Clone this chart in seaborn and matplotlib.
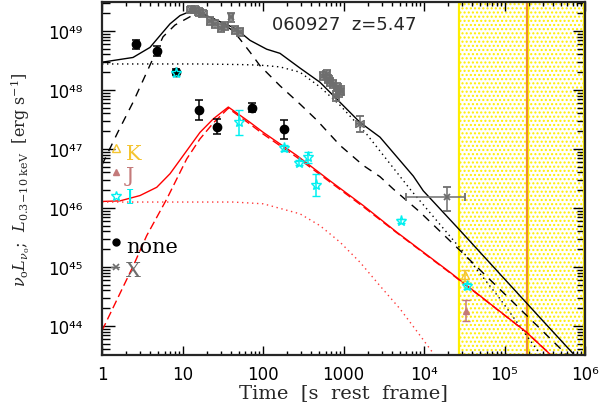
import numpy as np
import pandas as pd
import matplotlib
matplotlib.use("Agg")
import matplotlib.pyplot as plt
from matplotlib.ticker import FixedLocator, FixedFormatter, LogLocator, NullFormatter
import seaborn as sns

# ---------------- model curves: log10(t [s]) , log10(L [erg/s]) ----------------
# X-ray total (prompt + afterglow), afterglow, prompt
bk_total_lt = [0.000, 0.385, 0.596, 0.720, 0.845, 0.969, 1.093, 1.217, 1.342, 1.627, 1.714,
               1.839, 1.963, 2.046, 2.211, 2.460, 2.708, 2.957, 3.205, 3.453, 3.867, 3.991,
               4.447, 4.944, 5.441, 5.880]
bk_total_lL = [48.47, 48.55, 48.72, 48.92, 49.12, 49.26, 49.33, 49.32, 49.23, 49.06, 48.98,
               48.84, 48.75, 48.69, 48.62, 48.37, 48.13, 47.79, 47.45, 47.20, 46.54, 46.29,
               45.62, 44.88, 44.14, 43.49]
bk_after_lt = [0.000, 0.199, 0.389, 0.596, 0.758, 0.907, 1.093, 1.217, 1.342, 1.466, 1.631,
               1.714, 1.839, 1.963, 2.211, 2.460, 2.667, 2.957, 3.246, 3.453, 3.619, 3.950,
               4.447, 5.109, 5.790]
bk_after_lL = [46.73, 47.29, 47.80, 48.42, 48.90, 49.10, 49.24, 49.27, 49.24, 49.15, 49.00,
               48.86, 48.64, 48.41, 48.07, 47.76, 47.49, 47.06, 46.72, 46.53, 46.32, 45.93,
               45.28, 44.40, 43.49]
bk_prompt_lt = [0.000, 1.217, 1.714, 1.963, 2.211, 2.460, 2.708, 2.957, 3.288, 3.826, 4.447,
                4.944, 5.460]
bk_prompt_lL = [48.44, 48.44, 48.43, 48.42, 48.39, 48.30, 48.05, 47.74, 47.25, 46.32, 45.32,
                44.46, 43.49]

# optical (I band) total, afterglow, prompt
rd_total_lt = [0.000, 0.224, 0.472, 0.680, 0.845, 1.010, 1.217, 1.383, 1.569, 1.839, 2.004,
               2.419, 2.832, 3.246, 3.661, 4.323, 5.276, 5.590]
rd_total_lL = [46.11, 46.12, 46.21, 46.35, 46.58, 46.89, 47.28, 47.51, 47.71, 47.45, 47.28,
               46.89, 46.46, 46.04, 45.59, 44.91, 43.89, 43.49]
rd_after_lt = [0.000, 0.389, 0.555, 0.804, 1.052, 1.217, 1.383, 1.569, 1.839, 2.004, 2.419,
               2.832, 3.246, 3.661, 4.323, 5.276, 5.590]
rd_after_lL = [43.92, 45.02, 45.53, 46.15, 46.83, 47.17, 47.44, 47.69, 47.42, 47.25, 46.86,
               46.44, 46.02, 45.58, 44.90, 43.89, 43.49]
rd_prompt_lt = [0.000, 1.631, 2.004, 2.460, 2.708, 2.957, 3.205, 3.453, 3.702, 3.950, 4.140]
rd_prompt_lL = [46.10, 46.10, 46.07, 45.90, 45.70, 45.42, 45.08, 44.68, 44.29, 43.84, 43.49]

# ---------------- observed points ----------------
# unabsorbed optical ("none"): log t, log L, error in dex
none_lt = [0.419, 0.680, 0.919, 1.201, 1.425, 1.867, 2.257]
none_lL = [48.77, 48.66, 48.30, 47.66, 47.38, 47.70, 47.33]
none_err = [0.08, 0.09, 0.05, 0.17, 0.12, 0.08, 0.16]

# I band
i_lt = [0.919, 1.702, 2.265, 2.447, 2.563, 2.658, 3.714, 4.534]
i_lL = [48.28, 47.45, 47.01, 46.77, 46.86, 46.39, 45.78, 44.68]
i_err = [0.05, 0.21, 0.05, 0.05, 0.09, 0.18, 0.04, 0.05]

# J and K bands
j_lt, j_lL, j_err = [4.520], [44.26], [0.18]
k_lt, k_lL, k_err = [4.513], [44.86], [0.09]

# X-ray 0.3-10 keV
x_lt = [1.102, 1.155, 1.209, 1.258, 1.342, 1.404, 1.475, 1.528, 1.602, 1.652, 1.714,
        2.742, 2.791, 2.811, 2.832, 2.873, 2.923, 2.948, 2.907, 2.969, 3.205, 4.282]
x_lL = [49.36, 49.36, 49.32, 49.29, 49.17, 49.12, 49.05, 49.08, 49.23, 49.01, 48.98,
        48.24, 48.27, 48.19, 48.13, 48.10, 48.05, 47.96, 47.90, 47.99, 47.42, 46.19]
x_yerr_lo = [0.06, 0.06, 0.06, 0.06, 0.07, 0.07, 0.07, 0.07, 0.08, 0.07, 0.07,
             0.07, 0.07, 0.07, 0.07, 0.07, 0.07, 0.08, 0.08, 0.08, 0.14, 0.25]
x_yerr_hi = [0.06, 0.06, 0.06, 0.06, 0.07, 0.07, 0.07, 0.07, 0.08, 0.07, 0.07,
             0.07, 0.07, 0.07, 0.07, 0.07, 0.07, 0.08, 0.08, 0.08, 0.14, 0.16]
x_xerr_lo = [0.05, 0.05, 0.05, 0.05, 0.04, 0.04, 0.04, 0.04, 0.03, 0.04, 0.04,
             0.04, 0.04, 0.04, 0.04, 0.04, 0.04, 0.04, 0.04, 0.04, 0.05, 0.506]
x_xerr_hi = [0.05, 0.05, 0.05, 0.05, 0.04, 0.04, 0.04, 0.04, 0.03, 0.04, 0.04,
             0.04, 0.04, 0.04, 0.04, 0.04, 0.04, 0.04, 0.04, 0.04, 0.05, 0.228]

# shaded interval and marker line (s, rest frame)
band_lo, band_hi = 2.74e4, 9.6e5
line_t = 1.9e5

title_text = "060927  z=5.47"
x_tick_vals = [1, 10, 100, 1000, 1e4, 1e5, 1e6]
x_tick_labels = ["1", "10", "100", "1000", "10\u2074", "10\u2075", "10\u2076"]
y_tick_vals = [1e44, 1e45, 1e46, 1e47, 1e48, 1e49]
y_tick_labels = ["10\u2074\u2074", "10\u2074\u2075", "10\u2074\u2076",
                 "10\u2074\u2077", "10\u2074\u2078", "10\u2074\u2079"]

# colours
C_GREY = "#6e6e6e"
C_CYAN = "#00f0f0"
C_GOLD = "#f4c430"
C_BROWN = "#c47a7a"
C_RED = "#ff0000"

sns.set_style("ticks")
plt.rcParams.update({
    "font.family": ["DejaVu Sans"],
    "mathtext.fontset": "dejavuserif",
    "axes.linewidth": 1.6,
    "hatch.linewidth": 1.0,
})

fig = plt.figure(figsize=(6.05, 4.14), dpi=100)
ax = fig.add_axes([102 / 605, 58 / 414, 483 / 605, 353 / 414])
ax.set_xscale("log")
ax.set_yscale("log")
ax.set_xlim(1, 1e6)
ax.set_ylim(10 ** 43.508, 10 ** 49.49)

# shaded interval
ax.axvspan(band_lo, band_hi, facecolor="white", edgecolor="#ffee00",
           hatch="....", lw=0, zorder=0.5)
for edge in (band_lo, band_hi):
    ax.axvline(edge, color="#ffee00", lw=1.6, zorder=0.55)
ax.axvline(line_t, color="#ffee00", lw=2.4, zorder=0.58)
ax.axvline(line_t, color="#ee8040", lw=1.3, zorder=0.6)


def curve(lt, lL, color, ls, lw=1.0):
    df = pd.DataFrame({"t": 10 ** np.asarray(lt), "L": 10 ** np.asarray(lL)})
    sns.lineplot(data=df, x="t", y="L", ax=ax, color=color, lw=lw, linestyle=ls,
                 estimator=None, sort=False, zorder=2)


curve(bk_total_lt, bk_total_lL, "black", "-")
curve(bk_after_lt, bk_after_lL, "black", (0, (6, 5)))
curve(bk_prompt_lt, bk_prompt_lL, "black", (0, (1, 2.6)))
curve(rd_total_lt, rd_total_lL, C_RED, "-")
curve(rd_after_lt, rd_after_lL, C_RED, (0, (6, 3)))
curve(rd_prompt_lt, rd_prompt_lL, "#ff3a3a", (0, (1, 2.6)))


def points(lt, lL, elo, ehi, xlo=None, xhi=None, **kw):
    t = 10 ** np.asarray(lt)
    L = 10 ** np.asarray(lL)
    yerr = [L - L * 10 ** (-np.asarray(elo)), L * 10 ** np.asarray(ehi) - L]
    xerr = None
    if xlo is not None:
        xerr = [t - t * 10 ** (-np.asarray(xlo)), t * 10 ** np.asarray(xhi) - t]
    ax.errorbar(t, L, yerr=yerr, xerr=xerr, capsize=3, elinewidth=1.1, capthick=1.1,
                linestyle="none", zorder=3, **kw)


points(x_lt, x_lL, x_yerr_lo, x_yerr_hi, x_xerr_lo, x_xerr_hi, color=C_GREY,
       marker="x", ms=4.5, mew=1.3)
points(none_lt, none_lL, none_err, none_err, color="black", marker="o", ms=6)
points(i_lt, i_lL, i_err, i_err, color=C_CYAN, marker="*", ms=8, mfc="none", mew=1.0)
points(k_lt, k_lL, k_err, k_err, color=C_GOLD, marker="^", ms=6, mfc="none", mew=1.0)
points(j_lt, j_lL, j_err, j_err, color=C_BROWN, marker="^", ms=4.5, mew=1.0)

# key
tr = ax.transAxes
key = [
    (0.586, 0.572, "K", C_GOLD, dict(marker="^", ms=6, mfc="none", mew=1.0)),
    (0.519, 0.508, "J", C_BROWN, dict(marker="^", ms=4, mew=1.0)),
    (0.451, 0.447, "I", C_CYAN, dict(marker="*", ms=7.5, mfc="none", mew=1.0)),
    (0.319, 0.306, "none", "black", dict(marker="o", ms=5)),
    (0.250, 0.240, "X", C_GREY, dict(marker="x", ms=4, mew=1.2)),
]
for ym, yt, lab, col, mk in key:
    ax.plot([0.030], [ym], transform=tr, color=col, linestyle="none", zorder=4,
            clip_on=False, **mk)
    ax.text(0.050, yt, lab, transform=tr, color=col, fontsize=15, family="DejaVu Serif",
            va="center", ha="left", zorder=4)
ax.plot([0.019, 0.036], [0.250, 0.250], transform=tr, color=C_GREY, lw=1.0, zorder=4)

ax.text(0.352, 0.937, title_text, transform=tr, fontsize=13, va="center", ha="left")

# ticks
ax.xaxis.set_major_locator(FixedLocator(x_tick_vals))
ax.xaxis.set_major_formatter(FixedFormatter(x_tick_labels))
ax.yaxis.set_major_locator(FixedLocator(y_tick_vals))
ax.yaxis.set_major_formatter(FixedFormatter(y_tick_labels))
for axis in (ax.xaxis, ax.yaxis):
    axis.set_minor_locator(LogLocator(base=10, subs=np.arange(2, 10), numticks=20))
    axis.set_minor_formatter(NullFormatter())
ax.tick_params(which="both", direction="in", top=True, right=True, width=1.0,
               colors="black")
ax.tick_params(axis="x", which="major", length=6.5, pad=7, labelsize=12)
ax.tick_params(axis="x", which="minor", length=3.2)
ax.tick_params(axis="y", which="major", length=9, pad=14, labelsize=12)
ax.tick_params(axis="y", which="minor", length=5.5)
ax.set_xlabel("")
ax.set_ylabel("")

fig.text(343.5 / 605, 1 - 393 / 414, "Time  [s  rest  frame]", family="DejaVu Serif",
         fontsize=14, ha="center", va="center")
fig.text(20 / 605, 1 - 180 / 414,
         r"$\nu_{\rm o}L_{\nu_{\rm o}}$;  $L_{\rm 0.3\!-\!10\ keV}$  [erg s$^{-1}$]",
         family="DejaVu Serif", fontsize=11.5, rotation=90, ha="center", va="center")

fig.savefig("out.png", dpi=100)
